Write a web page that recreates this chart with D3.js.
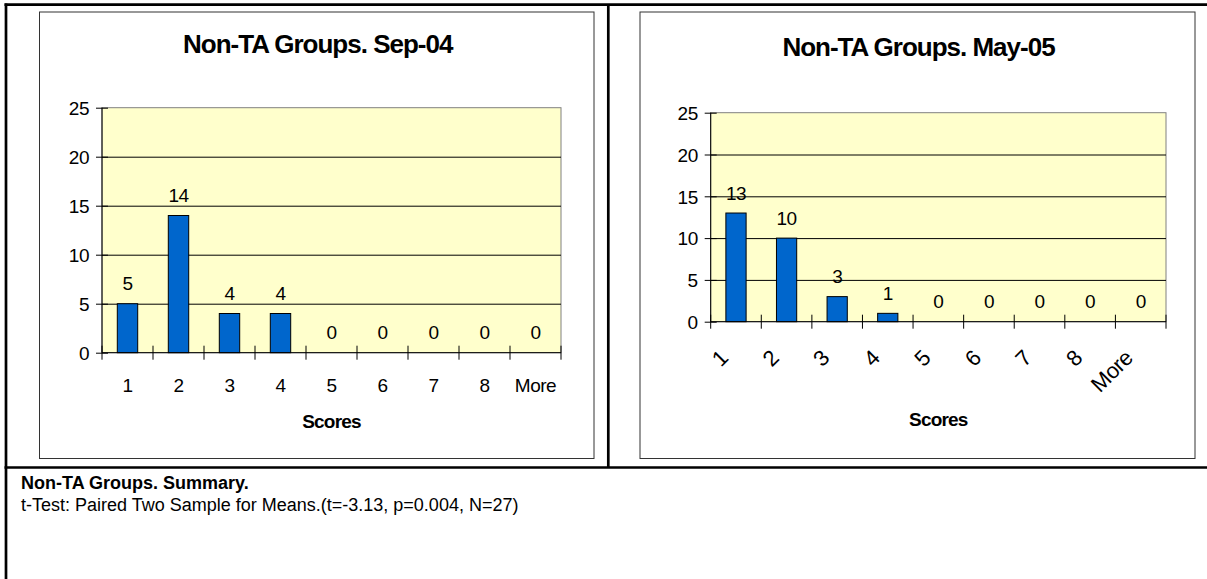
<!DOCTYPE html>
<html>
<head>
<meta charset="utf-8">
<script src="https://cdn.jsdelivr.net/npm/d3@7"></script>
<style>
  html, body { margin: 0; padding: 0; background: #fff; }
  svg { display: block; font-family: "Liberation Sans", Arial, sans-serif; }
</style>
</head>
<body>
<svg id="chart" width="1207" height="579"></svg>
<script>
// ---- data ----
const categories = ["1", "2", "3", "4", "5", "6", "7", "8", "More"];
const sep04Counts = [5, 14, 4, 4, 0, 0, 0, 0, 0];
const may05Counts = [13, 10, 3, 1, 0, 0, 0, 0, 0];
const yTickValues = [0, 5, 10, 15, 20, 25];
const chartTitles = ["Non-TA Groups. Sep-04", "Non-TA Groups. May-05"];
const xAxisTitle = "Scores";
const summaryTitle = "Non-TA Groups. Summary.";
const summaryText = "t-Test: Paired Two Sample for Means.(t=-3.13, p=0.004, N=27)";

// ---- layout ----
const svg = d3.select("#chart");
const panels = [
  { title: chartTitles[0], values: sep04Counts, box: [39.5, 12, 594, 458.5],
    plot: { x0: 102, x1: 561, y0: 107.7, y1: 352.7 }, titleY: 52.5, rotate: false, axisTitleY: 428 },
  { title: chartTitles[1], values: may05Counts, box: [640, 12, 1195, 458.5],
    plot: { x0: 710.7, x1: 1166, y0: 112.7, y1: 321.7 }, titleY: 56, rotate: true, axisTitleY: 426 }
];

// table lines
const tbl = svg.append("g").attr("stroke", "#000").attr("stroke-width", 2.7);
tbl.append("line").attr("x1", 4.5).attr("x2", 1207).attr("y1", 4.7).attr("y2", 4.7);
tbl.append("line").attr("x1", 6).attr("x2", 6).attr("y1", 3.4).attr("y2", 579);
tbl.append("line").attr("x1", 608.3).attr("x2", 608.3).attr("y1", 4.7).attr("y2", 467.5);
tbl.append("line").attr("x1", 4.5).attr("x2", 1207).attr("y1", 467.5).attr("y2", 467.5);

panels.forEach(p => {
  const g = svg.append("g");
  const [bx0, by0, bx1, by1] = p.box;
  g.append("rect").attr("x", bx0).attr("y", by0).attr("width", bx1 - bx0).attr("height", by1 - by0)
    .attr("fill", "#fff").attr("stroke", "#333").attr("stroke-width", 1);

  g.append("text").attr("x", (bx0 + bx1) / 2 + 1).attr("y", p.titleY)
    .attr("text-anchor", "middle").attr("font-size", 26).attr("font-weight", "bold")
    .attr("letter-spacing", "-1px").text(p.title);

  const { x0, x1, y0, y1 } = p.plot;
  const x = d3.scaleBand().domain(categories).range([x0, x1]).paddingInner(0.6).paddingOuter(0.3);
  const xb = d3.scaleBand().domain(categories).range([x0, x1]).padding(0);
  const y = d3.scaleLinear().domain([0, 25]).range([y1, y0]);

  // plot area
  g.append("rect").attr("x", x0).attr("y", y0).attr("width", x1 - x0).attr("height", y1 - y0)
    .attr("fill", "#FFFFCC").attr("stroke", "#808080").attr("stroke-width", 1);

  // gridlines
  const grid = g.append("g").attr("transform", `translate(${x0},0)`)
    .call(d3.axisLeft(y).tickValues(yTickValues.filter(v => v > 0 && v < 25)).tickSize(-(x1 - x0)).tickFormat(""));
  grid.select(".domain").remove();
  grid.selectAll("line").attr("stroke", "#000").attr("stroke-width", 1);

  // bars
  g.append("g").selectAll("rect").data(p.values).join("rect")
    .attr("x", (d, i) => x(categories[i]))
    .attr("y", d => y(d))
    .attr("width", x.bandwidth())
    .attr("height", d => y(0) - y(d))
    .attr("fill", "#0066CC").attr("stroke", "#000").attr("stroke-width", 1);

  // data labels
  g.append("g").selectAll("text").data(p.values).join("text")
    .attr("x", (d, i) => x(categories[i]) + x.bandwidth() / 2)
    .attr("y", d => y(d) - 13.5)
    .attr("text-anchor", "middle").attr("font-size", 19).attr("letter-spacing", "-0.5px")
    .text(d => d);

  // y axis
  const ya = g.append("g").attr("transform", `translate(${x0},0)`)
    .call(d3.axisLeft(y).tickValues(yTickValues).tickSize(6).tickPadding(7));
  ya.select(".domain").attr("stroke", "#000").attr("d", `M0,${y0}V${y1}`);
  ya.selectAll(".tick line").attr("x1", 6).attr("stroke", "#000");
  ya.selectAll(".tick text").attr("font-size", 19).attr("fill", "#000")
    .attr("letter-spacing", "-0.5px").attr("font-family", "Liberation Sans, Arial, sans-serif")
    .attr("dy", "0.36em");

  // x axis line
  g.append("line").attr("x1", x0).attr("x2", x1).attr("y1", y1).attr("y2", y1).attr("stroke", "#000");
  // category boundary ticks
  const bounds = categories.map(c => xb(c)).concat([x1]);
  g.append("g").selectAll("line").data(bounds).join("line")
    .attr("x1", d => d).attr("x2", d => d)
    .attr("y1", y1 - 7).attr("y2", y1 + 7)
    .attr("stroke", "#000").attr("stroke-width", 1);

  // x labels
  const xa = g.append("g").attr("transform", `translate(0,${y1})`)
    .call(d3.axisBottom(x).tickSize(0));
  xa.select(".domain").remove();
  const xt = xa.selectAll(".tick text").attr("font-size", 19).attr("fill", "#000")
    .attr("font-family", "Liberation Sans, Arial, sans-serif").attr("letter-spacing", "-0.5px");
  if (p.rotate) {
    xt.attr("y", 0).attr("dy", 0).attr("text-anchor", "end").attr("font-size", 22)
      .attr("transform", "translate(-6.6,37.7) rotate(-45)");
  } else {
    xt.attr("y", 39).attr("dy", 0);
  }

  // axis title
  g.append("text").attr("x", (x0 + x1) / 2).attr("y", p.axisTitleY)
    .attr("text-anchor", "middle").attr("font-size", 19).attr("font-weight", "bold")
    .attr("letter-spacing", "-0.8px").text(xAxisTitle);
});

// summary
svg.append("text").attr("x", 21).attr("y", 489).attr("font-size", 18).attr("font-weight", "bold")
  .text(summaryTitle);
svg.append("text").attr("x", 21).attr("y", 511).attr("font-size", 18)
  .text(summaryText);
</script>
</body>
</html>
